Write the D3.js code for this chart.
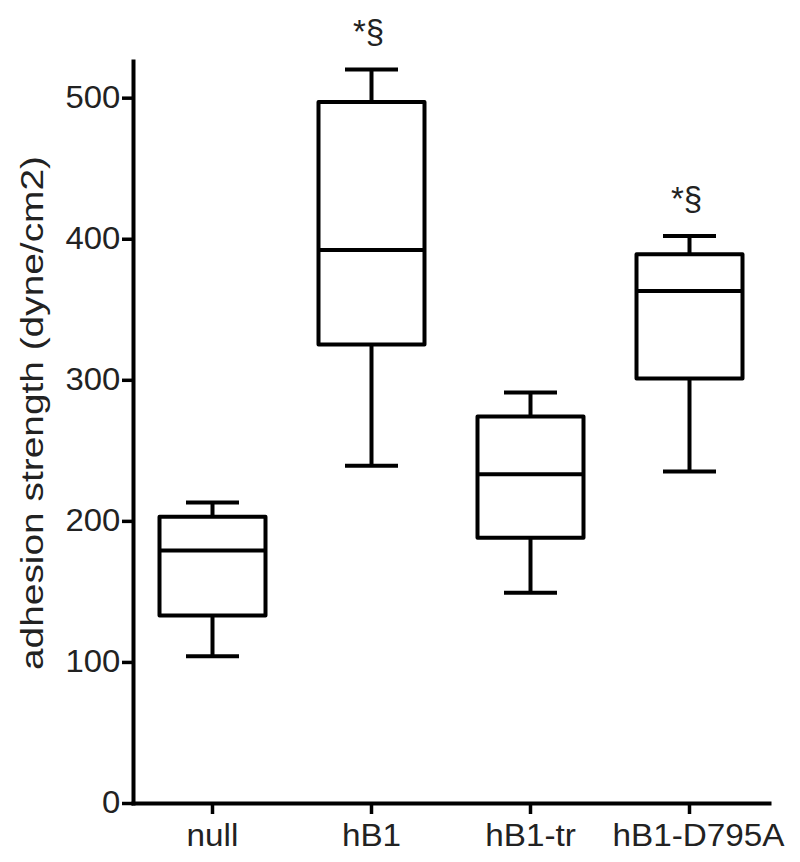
<!DOCTYPE html>
<html>
<head>
<meta charset="utf-8">
<script src="https://cdn.jsdelivr.net/npm/d3@7"></script>
<style>
  body { margin: 0; background: #fff; }
  text { font-family: "Liberation Sans", Arial, sans-serif; fill: #222; }
</style>
</head>
<body>
<svg class="chart" width="800" height="862"></svg>
<script>
// values (dyne/cm2)
var groups = ["null", "hB1", "hB1-tr", "hB1-D795A"]
var whiskerLow  = [104, 239, 149, 235]
var quart1      = [133, 325, 188, 301]
var medians     = [179, 392, 233, 363]
var quart3      = [203, 497, 274, 389]
var whiskerHigh = [213, 520, 291, 402]
var marks       = ["", "*§", "", "*§"]
var yTicks = [0, 100, 200, 300, 400, 500]

var boxes = groups.map(function(g, i) {
    return {name: g, lo: whiskerLow[i], q1: quart1[i], med: medians[i],
            q3: quart3[i], hi: whiskerHigh[i], mark: marks[i]}
})

var svg = d3.select(".chart")

var x_scaler = d3.scaleBand()
    .domain(groups)
    .range([133, 769])

var y_scaler = d3.scaleLinear()
    .domain([0, 526])
    .range([803, 61])

var boxW = 106
var capW = 53

// y axis
var yAxis = svg.append("g")
    .attr("transform", "translate(133,0)")
    .call(d3.axisLeft(y_scaler).tickValues(yTicks).tickSize(11).tickSizeOuter(0).tickPadding(1))
// x axis
var xAxis = svg.append("g")
    .attr("transform", "translate(0,803)")
    .call(d3.axisBottom(x_scaler).tickSize(11).tickSizeOuter(0).tickPadding(9))

svg.selectAll(".domain")
    .attr("stroke", "#000")
    .attr("stroke-width", 4)
    .attr("stroke-linecap", "square")
svg.selectAll(".tick line")
    .attr("stroke", "#000")
    .attr("stroke-width", 3.5)

yAxis.selectAll(".tick text")
    .style("font-size", "31px")
    .attr("fill", "#222")
    .attr("transform", "scale(1.06,1)")
xAxis.selectAll(".tick text")
    .style("font-size", "32px")
    .attr("fill", "#222")
    .attr("transform", function(d, i) {
        // last label sits a little right of its tick in the original
        return (i == groups.length - 1 ? "translate(9,0) " : "") + "scale(1.04,1)"})

// y axis title
svg.append("text")
    .attr("transform", "translate(43,413) rotate(-90)")
    .attr("text-anchor", "middle")
    .attr("textLength", 514)
    .attr("lengthAdjust", "spacingAndGlyphs")
    .style("font-size", "32px")
    .text("adhesion strength (dyne/cm2)")

// boxes
var g = svg.selectAll(".box")
    .data(boxes)
    .enter()
    .append("g")
    .classed("box", true)
    .attr("transform", function(d) {
        return "translate(" + (x_scaler(d.name) + x_scaler.bandwidth() / 2) + ",0)"})

var stroke = function(sel) {
    return sel.attr("stroke", "#000").attr("stroke-width", 4).attr("fill", "none")
}

// whisker stems
g.append("line").call(stroke)
    .attr("x1", 0).attr("x2", 0)
    .attr("y1", function(d) {return y_scaler(d.hi)})
    .attr("y2", function(d) {return y_scaler(d.q3)})
g.append("line").call(stroke)
    .attr("x1", 0).attr("x2", 0)
    .attr("y1", function(d) {return y_scaler(d.q1)})
    .attr("y2", function(d) {return y_scaler(d.lo)})
// caps
g.append("line").call(stroke)
    .attr("x1", -capW / 2).attr("x2", capW / 2)
    .attr("y1", function(d) {return y_scaler(d.hi)})
    .attr("y2", function(d) {return y_scaler(d.hi)})
g.append("line").call(stroke)
    .attr("x1", -capW / 2).attr("x2", capW / 2)
    .attr("y1", function(d) {return y_scaler(d.lo)})
    .attr("y2", function(d) {return y_scaler(d.lo)})
// box
g.append("rect").call(stroke)
    .attr("fill", "#fff")
    .attr("stroke-linejoin", "round")
    .attr("x", -boxW / 2)
    .attr("width", boxW)
    .attr("y", function(d) {return y_scaler(d.q3)})
    .attr("height", function(d) {return y_scaler(d.q1) - y_scaler(d.q3)})
// median
g.append("line").call(stroke)
    .attr("x1", -boxW / 2).attr("x2", boxW / 2)
    .attr("y1", function(d) {return y_scaler(d.med)})
    .attr("y2", function(d) {return y_scaler(d.med)})

// significance marks
g.filter(function(d) {return d.mark != ""})
    .append("text")
    .attr("x", -3)
    .attr("y", function(d) {return y_scaler(d.hi) - 26})
    .attr("text-anchor", "middle")
    .style("font-size", "33px")
    .text(function(d) {return d.mark})
</script>
</body>
</html>
